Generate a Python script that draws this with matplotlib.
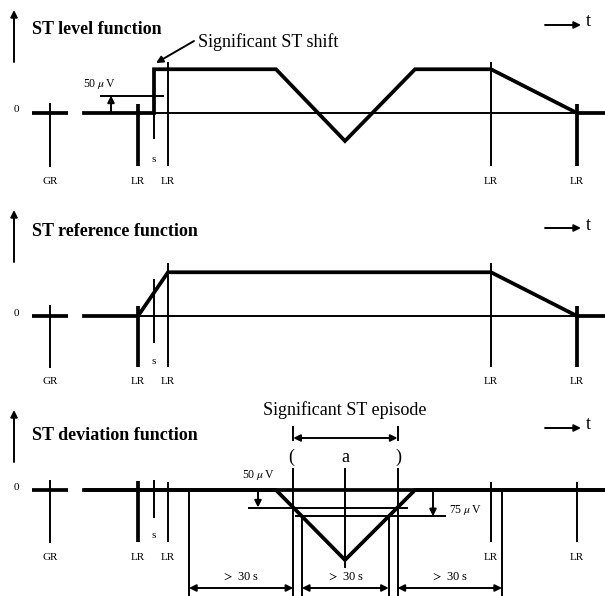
import numpy as np
import matplotlib.pyplot as plt

plt.rcParams['mathtext.fontset'] = 'stix'

# time positions along the strip and amplitudes in uV
t_gr = 50
t_lr = [138, 168, 491, 577]
t_s = 154

level_t = [84, 154, 154, 276, 345, 415, 491, 577, 605]
level_v = [0, 0, 125, 125, -80, 125, 125, 0, 0]

ref_t = [84, 138, 168, 491, 577, 605]
ref_v = [0, 0, 125, 125, 0, 0]

dev_t = [84, 276, 345, 415, 605]
dev_v = [0, 0, -200, 0, 0]

thr_shift = 50
thr_start = 50
thr_episode = 75
t_before = 189
t_after = 502

titles = ['ST level function', 'ST reference function', 'ST deviation function']

PX = 0.35          # pixels per uV
W, H = 605, 596
THICK, THIN = 2.7, 1.4
SERIF = 'Liberation Serif'
BIG, SMALL = 13, 8


def u(d):
    # pixel offset from the zero line -> uV
    return d / PX


def arrow(ax, x0, y0, x1, y1, style='-|>'):
    ax.annotate('', xy=(x1, y1), xytext=(x0, y0),
                arrowprops=dict(arrowstyle=style, color='black', lw=THIN,
                                mutation_scale=10, shrinkA=0, shrinkB=0))


def make_panel(fig, top, height, base):
    ax = fig.add_axes([0, 1 - (top + height) / H, 1, height / H])
    ax.set_xlim(0, W)
    ax.set_ylim(-u(height - base), u(base))
    ax.axis('off')
    return ax


def common(ax, title, axis_top, title_y, t_y, lr_tall, s_range, lab_s, lab_lr,
           short_top=9, low=-52, lr_thick=(True, False, False, True)):
    # vertical amplitude arrow + title
    arrow(ax, 14, u(axis_top - 52), 14, u(axis_top))
    ax.text(32, u(title_y), title, fontsize=BIG, fontweight='bold', family=SERIF,
            va='center', ha='left')
    # time arrow
    arrow(ax, 545, u(t_y), 581, u(t_y))
    ax.text(586, u(t_y + 3), 't', fontsize=BIG, family=SERIF, va='center', ha='left')
    # zero label and GR mark
    ax.text(16, u(3), '0', fontsize=SMALL, family=SERIF, va='center', ha='center')
    ax.plot([32, 68], [0, 0], color='black', lw=THICK, solid_capstyle='butt')
    ax.plot([t_gr, t_gr], [u(short_top), u(low)], color='black', lw=THIN)
    ax.text(t_gr, u(lab_lr), 'GR', fontsize=SMALL, family=SERIF, ha='center', va='center')
    for t, thick in zip(t_lr, lr_thick):
        top = short_top if thick else lr_tall
        ax.plot([t, t], [u(top), u(low)], color='black', lw=THICK if thick else THIN,
                solid_capstyle='butt')
        ax.text(t, u(lab_lr), 'LR', fontsize=SMALL, family=SERIF, ha='center', va='center')
    ax.plot([t_s, t_s], [u(s_range[0]), u(s_range[1])], color='black', lw=THIN)
    ax.text(t_s, u(lab_s), 's', fontsize=SMALL, family=SERIF, ha='center', va='center')


fig = plt.figure(figsize=(W / 100, H / 100), dpi=100)

# ---- ST level function
ax1 = make_panel(fig, 0, 200, 113)
common(ax1, titles[0], 103, 83, 88, 51, (0, -25), -47, -69, short_top=9, low=-53)
ax1.plot([84, W], [0, 0], color='black', lw=THIN)
ax1.plot(level_t, level_v, color='black', lw=THICK, solid_joinstyle='miter')
ax1.plot([101, 163], [thr_shift, thr_shift], color='black', lw=THIN)
arrow(ax1, 111, 0, 111, thr_shift)
ax1.text(83, u(29), r'50 $\mu\,$V', fontsize=SMALL + 0.5, family=SERIF, ha='left', va='center')
ax1.text(198, u(71), 'Significant ST shift', fontsize=BIG, family=SERIF, ha='left', va='center')
arrow(ax1, 194, u(72), 156, u(50))

# ---- ST reference function
ax2 = make_panel(fig, 200, 200, 116)
common(ax2, titles[1], 106, 84, 88, 53, (36, -26), -45, -66, short_top=10, low=-51)
ax2.plot([84, W], [0, 0], color='black', lw=THIN)
ax2.plot(ref_t, ref_v, color='black', lw=THICK, solid_joinstyle='miter')

# ---- ST deviation function
ax3 = make_panel(fig, 400, 196, 90)
common(ax3, titles[2], 80, 54, 62, 8, (9, -27), -45, -68, short_top=9, low=-52,
       lr_thick=(True, False, False, False))
ax3.plot([84, W], [0, 0], color='black', lw=THICK, solid_capstyle='butt')
ax3.plot(dev_t, dev_v, color='black', lw=THICK, solid_joinstyle='miter')

i_min = int(np.argmin(dev_v))
t_min = dev_t[i_min]
xp_l = [dev_v[i_min], dev_v[i_min - 1]]
fp_l = [t_min, dev_t[i_min - 1]]
fp_r = [t_min, dev_t[i_min + 1]]
start_l = np.interp(-thr_start, xp_l, fp_l)
start_r = np.interp(-thr_start, xp_l, fp_r)
epi_l = np.interp(-thr_episode, xp_l, fp_l)
epi_r = np.interp(-thr_episode, xp_l, fp_r)
bottom = u(-106)

# thresholds
ax3.plot([249, 407], [-thr_start, -thr_start], color='black', lw=THIN)
arrow(ax3, 258, 0, 258, -thr_start)
ax3.text(258, u(15), r'50 $\mu\,$V', fontsize=SMALL + 0.5, family=SERIF, ha='center', va='center')
ax3.plot([296, 445], [-thr_episode, -thr_episode], color='black', lw=THIN)
arrow(ax3, 433, 0, 433, -thr_episode)
ax3.text(449, u(-20), r'75 $\mu\,$V', fontsize=SMALL + 0.5, family=SERIF, ha='left', va='center')

# episode borders
for t in (start_l, start_r):
    ax3.plot([t, t], [u(63), u(50)], color='black', lw=THIN)
    ax3.plot([t, t], [u(21), bottom], color='black', lw=THIN)
for t in (epi_l, epi_r):
    ax3.plot([t, t], [-thr_episode, bottom], color='black', lw=THIN)
for t in (t_before, t_after):
    ax3.plot([t, t], [0, bottom], color='black', lw=THIN)
ax3.plot([t_min, t_min], [u(21), u(-77)], color='black', lw=THIN)

arrow(ax3, start_l, u(52), start_r, u(52), style='<|-|>')
ax3.text(t_min, u(80), 'Significant ST episode', fontsize=BIG, family=SERIF,
         ha='center', va='center')
ax3.text(start_l - 2, u(33), '(', fontsize=BIG, family=SERIF, ha='center', va='center')
ax3.text(t_min, u(33), 'a', fontsize=BIG, family=SERIF, ha='center', va='center')
ax3.text(start_r + 1, u(33), ')', fontsize=BIG, family=SERIF, ha='center', va='center')

# > 30 s intervals
for a, b in [(t_before, start_l), (epi_l, epi_r), (start_r, t_after)]:
    arrow(ax3, a, u(-98), b, u(-98), style='<|-|>')
    ax3.text((a + b) / 2, u(-87), r'$>$ 30 s', fontsize=SMALL + 1, family=SERIF,
             ha='center', va='center')

fig.savefig('out.png', dpi=100)
